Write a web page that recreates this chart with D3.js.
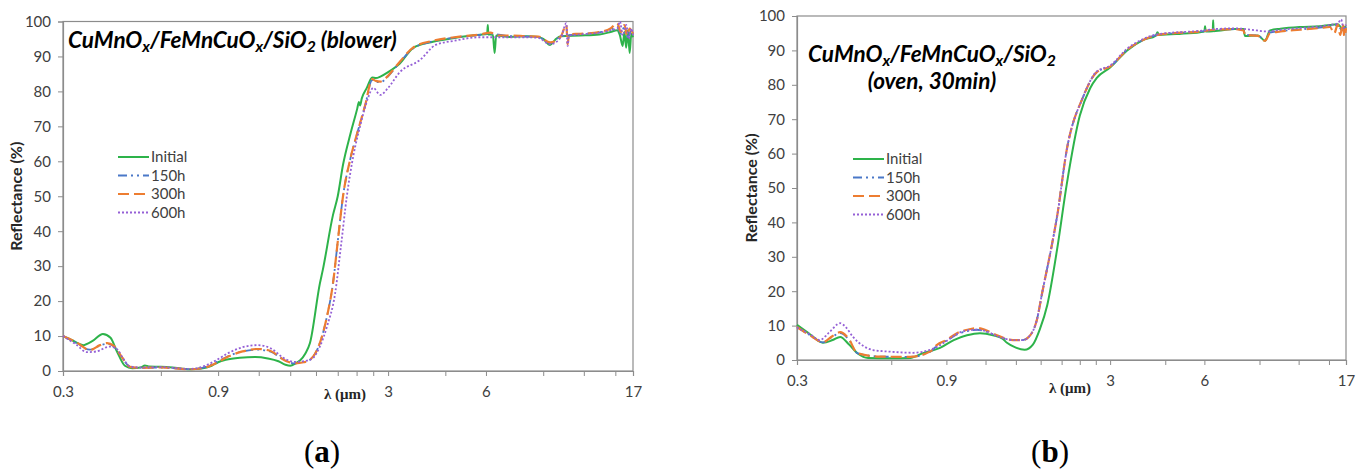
<!DOCTYPE html>
<html>
<head>
<meta charset="utf-8">
<script src="https://cdn.jsdelivr.net/npm/d3@7"></script>
<style>
  body { margin: 0; background: #fff; }
  svg { font-family: Lato, "Open Sans", sans-serif; }
</style>
</head>
<body>
<div id="chart"></div>
<script>
// ---- data (wavelength in µm, reflectance in %) ----
const seriesNames = ["Initial", "150h", "300h", "600h"];
const xTickLabels = [0.3, 0.9, 3, 6, 17];
const xMinorTicks = [0.6, 1.2, 1.5, 1.8, 2.1, 2.4, 2.7, 4.5, 9, 12, 15];
const yTicks = [0, 10, 20, 30, 40, 50, 60, 70, 80, 90, 100];

// panel (a) blower
const blowerInitial = [[0.30,10.0],[0.32,8.8],[0.346,7.4],[0.37,8.6],[0.398,10.6],[0.42,9.5],[0.44,5.5],[0.465,1.5],[0.49,0.8],[0.52,1.0],[0.536,1.6],[0.55,1.3],[0.6,1.2],[0.65,1.0],[0.737,0.5],[0.8,0.7],[0.86,1.5],[0.9,2.5],[0.95,3.2],[1.05,3.8],[1.17,4.0],[1.28,3.6],[1.38,2.8],[1.45,1.8],[1.5,1.5],[1.56,2.2],[1.607,3],[1.67,5],[1.725,8],[1.85,25],[1.89,29],[2.03,44.6],[2.1,50],[2.18,59],[2.3,68],[2.41,75],[2.44,77],[2.46,76],[2.49,78],[2.58,81],[2.68,84],[2.75,83.8],[2.85,84.3],[3.0,85.5],[3.26,88],[3.58,92.4],[4.12,94.2],[4.8,95.3],[5.75,96.2],[6.05,96.4],[6.08,99],[6.1,96.3],[6.3,96.2],[6.38,91],[6.45,96],[7.1,95.6],[8.0,95.8],[8.7,95.6],[9.0,95],[9.45,93.3],[9.8,94.8],[10.2,95.8],[11.7,96],[13.4,96.3],[14.5,97],[15.2,97.5],[15.5,96],[15.8,93],[16.0,97],[16.2,92.5],[16.4,97.5],[16.6,91],[16.8,96.5],[17,95.5]];
const blower150 = [[0.30,10.0],[0.33,8.0],[0.363,6.1],[0.39,7.3],[0.41,7.8],[0.43,7.0],[0.455,4],[0.482,1.2],[0.52,0.9],[0.6,1.0],[0.737,0.5],[0.82,1.1],[0.9,2.8],[0.97,4.3],[1.07,5.6],[1.19,6.1],[1.3,5.6],[1.445,3.0],[1.55,2.2],[1.65,2.5],[1.725,3.2],[1.79,5],[1.85,8],[1.95,16],[2.03,25],[2.1,37],[2.18,50],[2.3,61],[2.41,68],[2.55,76],[2.68,83.2],[2.75,82.8],[2.84,82.6],[2.95,83.6],[3.0,84.3],[3.26,88.3],[3.58,92.3],[4.12,94.3],[4.8,95.4],[5.75,96.2],[6.2,96.5],[7.1,95.8],[8.0,95.7],[8.7,95.5],[9.45,93.8],[10.2,95.7],[11.7,96.4],[13.4,96.9],[14.5,97.6],[15.2,98.5],[15.6,96.5],[16.0,98.5],[16.4,95.5],[16.8,97.5],[17,96.5]];
const blower300 = [[0.30,10.0],[0.33,8.2],[0.363,6.0],[0.39,7.4],[0.41,8.0],[0.43,7.2],[0.455,4],[0.482,1.2],[0.52,0.9],[0.6,1.0],[0.737,0.5],[0.82,1.0],[0.9,2.6],[0.97,4.2],[1.07,5.6],[1.19,6.3],[1.3,5.8],[1.445,3.0],[1.55,2.2],[1.65,2.5],[1.725,3.2],[1.79,5],[1.85,8],[1.95,16],[2.03,25],[2.1,37],[2.18,50],[2.3,61],[2.41,68],[2.55,76],[2.68,83.5],[2.75,83],[2.84,82.8],[2.95,83.8],[3.0,84.5],[3.26,88.5],[3.58,92.5],[4.12,94.5],[4.8,95.5],[5.75,96.3],[6.2,96.8],[6.5,96],[7.1,96],[8.0,95.8],[8.7,95.7],[9.45,94],[10.2,95.8],[10.6,99],[10.7,93.5],[10.8,96.3],[11.7,96.5],[13.4,97],[14.5,98],[15.2,99.5],[15.6,97],[16.0,99],[16.3,96],[16.6,98],[17,96.5]];
const blower600 = [[0.30,10.0],[0.33,7.5],[0.355,5.4],[0.38,5.6],[0.418,7.0],[0.44,6.2],[0.46,3.5],[0.482,1.3],[0.52,1.0],[0.6,1.1],[0.737,0.6],[0.82,1.5],[0.9,3.4],[0.97,5.2],[1.07,6.8],[1.19,7.4],[1.3,6.6],[1.445,3.5],[1.55,2.6],[1.65,2.8],[1.75,3.5],[1.85,7],[1.95,13],[2.06,22],[2.15,36],[2.24,50],[2.35,62],[2.46,70],[2.6,78],[2.7,81],[2.84,79],[3.0,81],[3.26,85.5],[3.76,89],[4.2,93.3],[4.8,94.5],[5.75,95.5],[6.2,95.5],[7.1,95.5],[8.0,95.5],[8.7,95.3],[9.45,93.5],[10.2,95.5],[10.6,99.5],[10.7,93],[10.8,96],[11.7,96.3],[13.4,96.8],[14.5,97.5],[15.2,98],[15.5,100],[15.8,96],[16.2,99],[16.5,95],[16.8,98],[17,96]];

// panel (b) oven, 30 min
const ovenInitial = [[0.30,10.2],[0.33,7.5],[0.363,5.0],[0.39,5.8],[0.412,6.7],[0.44,4.5],[0.47,1.8],[0.506,0.6],[0.6,0.5],[0.69,0.6],[0.758,2.0],[0.859,3.5],[0.95,5.8],[1.047,7.2],[1.152,7.8],[1.268,7.2],[1.36,6.2],[1.405,5.0],[1.5,3.6],[1.6,3.0],[1.7,4.5],[1.79,9],[1.89,16],[2.03,32],[2.18,51],[2.4,71],[2.59,79],[2.72,82],[3.0,85],[3.4,90],[3.82,93],[4.2,94.3],[4.25,95.3],[4.3,94.5],[5.0,94.8],[5.81,95.3],[6.0,95.5],[6.03,97],[6.06,95.5],[6.38,95.6],[6.4,98.8],[6.42,95.6],[7.5,96.2],[8.0,96.2],[8.09,94.2],[8.9,94.3],[9.37,92.8],[9.72,95.8],[10.5,96.3],[12.1,96.8],[14,97],[15.1,97.4],[16,97.6],[16.5,96.5],[17,97]];
const oven150 = [[0.30,9.6],[0.33,7.2],[0.363,5.1],[0.39,6.8],[0.412,7.8],[0.44,5.8],[0.467,2.0],[0.552,1.0],[0.689,0.9],[0.8,2.4],[0.84,4.2],[0.9,5.6],[0.973,7.4],[1.05,8.4],[1.127,8.8],[1.2,8.3],[1.306,7.0],[1.468,5.8],[1.58,5.8],[1.66,7],[1.75,11.6],[1.82,19.5],[1.96,34],[2.03,41.6],[2.18,61],[2.46,76.5],[2.72,83.7],[3.0,85.3],[3.4,90.2],[3.82,93],[4.26,94.5],[5.81,95.5],[6.5,96],[7.5,96.2],[8.0,95.9],[8.09,94.6],[8.9,94.3],[9.37,93],[9.72,95.2],[10.5,95.6],[12.1,96.1],[14,96.6],[15.1,97],[16,97.3],[16.5,95.8],[17,96.8]];
const oven300 = [[0.30,9.6],[0.33,7.2],[0.363,5.2],[0.39,7],[0.412,8.1],[0.44,6],[0.467,2.0],[0.552,1.0],[0.689,0.9],[0.8,2.5],[0.84,4.4],[0.9,5.8],[0.973,7.8],[1.05,8.8],[1.127,9.3],[1.2,8.7],[1.306,7.2],[1.468,5.8],[1.58,5.8],[1.66,7],[1.75,11.6],[1.82,19.5],[1.96,34],[2.03,41.6],[2.18,61],[2.46,76.5],[2.72,83.7],[3.0,85.3],[3.4,90.2],[3.82,93],[4.26,94.5],[5.81,95.5],[6.5,96],[7.5,96.2],[8.0,95.8],[8.09,94.5],[8.9,94.2],[9.37,92.8],[9.72,95],[10.5,95.5],[12.1,96],[14,96.5],[15.1,96.8],[15.6,95],[16,97.5],[16.3,94.5],[16.6,97.8],[16.8,94],[17,96.5]];
const oven600 = [[0.30,9.4],[0.33,7.5],[0.355,5.8],[0.38,8],[0.412,10.7],[0.43,9.5],[0.453,6.7],[0.49,4],[0.525,2.9],[0.6,2.4],[0.704,2.1],[0.8,3],[0.84,3.8],[0.9,5.5],[0.973,7.6],[1.05,8.6],[1.127,8.8],[1.2,8.4],[1.306,7.0],[1.468,5.8],[1.58,5.8],[1.66,7],[1.75,11.6],[1.82,19.5],[1.96,34],[2.03,41.6],[2.18,61],[2.46,76.5],[2.72,83.9],[3.0,85.6],[3.4,90.5],[3.82,93.3],[4.26,94.7],[5.81,95.7],[6.5,96.2],[7.5,96.4],[8.5,96],[9.5,95.5],[10.5,96],[12.1,96.5],[14,97],[15.1,97.4],[16,97.8],[16.4,99],[16.7,96.5],[17,97.5]];

// ---- styles ----
const COLORS = ["#2db34a", "#4a78c8", "#ed7d31", "#9560d6"];
const DASHES = [null, "9,4,2,4,2,4", "11,5", "2,2"];
const WIDTHS = [2, 1.8, 2.2, 1.8];
const AXIS_GRAY = "#8c8c8c";
const TEXT_GRAY = "#404040";

const svg = d3.select("#chart").append("svg")
  .attr("width", 1367)
  .attr("height", 472)
  .style("background", "#fff");

// writes text pieces, lowering the ones flagged as subscript
function addSubText(sel, parts) {
  let shift = 0;
  parts.forEach(p => {
    const want = p[1] ? 4 : 0;
    const ts = sel.append("tspan").attr("dy", want - shift).text(p[0]);
    if (p[1]) ts.attr("font-size", "0.7em");
    shift = want;
  });
}

function drawPanel(cfg) {
  const x = d3.scaleLog().domain([0.3, 17]).range([cfg.left, cfg.right]);
  const y = d3.scaleLinear().domain([0, 100]).range([cfg.bottom, cfg.top]);

  const g = svg.append("g");

  // plot area border
  g.append("rect")
    .attr("x", cfg.left).attr("y", cfg.top)
    .attr("width", cfg.right - cfg.left).attr("height", cfg.bottom - cfg.top)
    .attr("fill", "none").attr("stroke", AXIS_GRAY).attr("stroke-width", 1.2);

  // y axis
  const yAxis = g.append("g")
    .attr("transform", "translate(" + cfg.left + ",0)")
    .call(d3.axisLeft(y).tickValues(yTicks).tickSize(5).tickPadding(7));
  yAxis.selectAll("text").attr("font-size", 15).attr("fill", TEXT_GRAY)
    .style("font-family", "Lato, sans-serif");

  // x axis, labelled ticks + minor ticks
  const xAxis = g.append("g")
    .attr("transform", "translate(0," + cfg.bottom + ")")
    .call(d3.axisBottom(x).tickValues(xTickLabels).tickFormat(d => d).tickSize(5).tickPadding(10));
  xAxis.selectAll("text").attr("font-size", 15).attr("fill", TEXT_GRAY)
    .style("font-family", "Lato, sans-serif");
  g.append("g")
    .attr("transform", "translate(0," + cfg.bottom + ")")
    .call(d3.axisBottom(x).tickValues(xMinorTicks).tickFormat("").tickSize(5))
    .select(".domain").remove();

  g.selectAll(".domain").attr("stroke", AXIS_GRAY).attr("stroke-width", 1.2);
  g.selectAll(".tick line").attr("stroke", AXIS_GRAY);

  // series
  const line = d3.line()
    .x(d => x(d[0]))
    .y(d => y(d[1]))
    .curve(d3.curveMonotoneX);

  cfg.series.forEach((s, i) => {
    g.append("path")
      .datum(s)
      .attr("d", line)
      .attr("fill", "none")
      .attr("stroke", COLORS[i])
      .attr("stroke-width", WIDTHS[i])
      .attr("stroke-dasharray", DASHES[i]);
  });

  // legend
  seriesNames.forEach((name, i) => {
    const ly = cfg.legendY + i * 18.5;
    g.append("line")
      .attr("x1", cfg.legendX).attr("x2", cfg.legendX + 31)
      .attr("y1", ly).attr("y2", ly)
      .attr("stroke", COLORS[i])
      .attr("stroke-width", WIDTHS[i])
      .attr("stroke-dasharray", DASHES[i]);
    g.append("text")
      .attr("x", cfg.legendX + 33).attr("y", ly + 5)
      .attr("font-size", 15).attr("fill", TEXT_GRAY)
      .text(name);
  });

  // y axis title
  g.append("text")
    .attr("transform", "translate(" + cfg.yTitleX + "," + ((cfg.top + cfg.bottom) / 2) + ") rotate(-90)")
    .attr("text-anchor", "middle")
    .attr("font-size", 16).attr("font-weight", "bold").attr("fill", "#262626")
    .text("Reflectance (%)");

  // x axis title
  g.append("text")
    .attr("x", cfg.xTitleX).attr("y", cfg.xTitleY)
    .attr("text-anchor", "middle")
    .attr("font-family", "'Liberation Serif', serif")
    .attr("font-size", 15).attr("font-weight", "bold").attr("fill", "#262626")
    .text("\u03bb (\u03bcm)");

  // chart title
  cfg.titleLines.forEach((parts, k) => {
    const t = g.append("text")
      .attr("x", cfg.titleX).attr("y", cfg.titleY + k * 27)
      .attr("text-anchor", cfg.titleAnchor)
      .attr("font-size", 22.5).attr("font-weight", "bold").attr("font-style", "italic")
      .attr("fill", "#000");
    addSubText(t, parts);
  });

  // panel caption
  const c = g.append("text")
    .attr("x", cfg.captionX).attr("y", 462)
    .attr("text-anchor", "middle")
    .attr("font-family", "'Liberation Serif', serif")
    .attr("font-size", 31).attr("fill", "#000");
  c.append("tspan").text("(");
  c.append("tspan").attr("font-weight", "bold").text(cfg.caption);
  c.append("tspan").text(")");
}

drawPanel({
  left: 63, right: 633, top: 21.5, bottom: 371,
  series: [blowerInitial, blower150, blower300, blower600],
  legendX: 118, legendY: 157,
  yTitleX: 22, xTitleX: 345, xTitleY: 399,
  titleX: 68, titleY: 48, titleAnchor: "start",
  titleLines: [[["CuMnO"], ["x", 1], ["/FeMnCuO"], ["x", 1], ["/SiO"], ["2", 1], [" (blower)"]]],
  captionX: 322, caption: "a"
});

drawPanel({
  left: 797, right: 1346, top: 16, bottom: 360,
  series: [ovenInitial, oven150, oven300, oven600],
  legendX: 853, legendY: 159,
  yTitleX: 757, xTitleX: 1070, xTitleY: 393,
  titleX: 932, titleY: 62, titleAnchor: "middle",
  titleLines: [[["CuMnO"], ["x", 1], ["/FeMnCuO"], ["x", 1], ["/SiO"], ["2", 1]], [["(oven, 30min)"]]],
  captionX: 1050, caption: "b"
});
</script>
</body>
</html>
